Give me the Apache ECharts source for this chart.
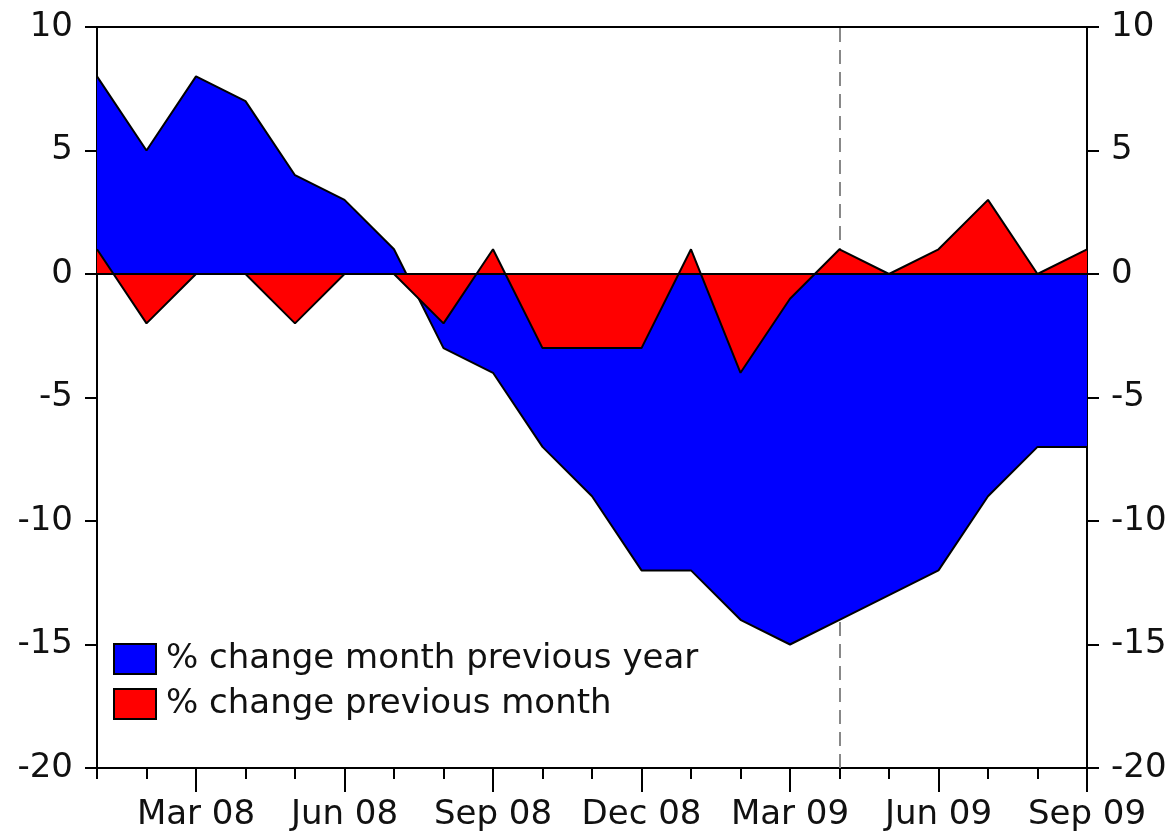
<!DOCTYPE html>
<html>
<head>
<meta charset="utf-8">
<script src="https://cdn.jsdelivr.net/npm/echarts@6/dist/echarts.min.js"></script>
<style>
  html, body { margin: 0; padding: 0; background: #fff; }
  #chart { width: 1171px; height: 833px; }
</style>
</head>
<body>
<div id="chart"></div>
<script>
// months, Jan 08 .. Sep 09
const months = [
  'Jan 08', 'Feb 08', 'Mar 08', 'Apr 08', 'May 08', 'Jun 08', 'Jul 08',
  'Aug 08', 'Sep 08', 'Oct 08', 'Nov 08', 'Dec 08', 'Jan 09', 'Feb 09',
  'Mar 09', 'Apr 09', 'May 09', 'Jun 09', 'Jul 09', 'Aug 09', 'Sep 09'
];
const changeYear = [8, 5, 8, 7, 4, 3, 1, -3, -4, -7, -9, -12, -12, -14, -15, -14, -13, -12, -9, -7, -7];
const changeMonth = [1, -2, 0, 0, -2, 0, 0, -2, 1, -3, -3, -3, 1, -4, -1, 1, 0, 1, 3, 0, 1];
const yTicks = [-20, -15, -10, -5, 0, 5, 10];
const markerMonth = 'Apr 09';

const font = 'DejaVu Sans';
const labelStyle = { fontFamily: font, fontSize: 34, color: '#111' };

const chart = echarts.init(document.getElementById('chart'));

const yAxisBase = {
  type: 'value',
  min: yTicks[0],
  max: yTicks[yTicks.length - 1],
  interval: 5,
  splitLine: { show: false },
  axisLine: { show: true, lineStyle: { color: '#000', width: 2 } },
  axisTick: { show: true, length: 12, lineStyle: { color: '#000', width: 2 } },
  axisLabel: Object.assign({ margin: 24 }, labelStyle)
};

const option = {
  animation: false,
  backgroundColor: '#fff',
  grid: {
    left: 97,
    right: 84,
    top: 27,
    bottom: 65,
    show: true,
    borderColor: '#000',
    borderWidth: 2
  },
  legend: {
    orient: 'vertical',
    left: 113,
    top: 642,
    padding: 0,
    icon: 'rect',
    itemWidth: 42,
    itemHeight: 30,
    itemGap: 11,
    itemStyle: { borderColor: '#000', borderWidth: 2 },
    textStyle: {
      fontFamily: font,
      fontSize: 34,
      color: '#111',
      lineHeight: 34,
      padding: [0, 0, 0, 5]
    },
    data: ['% change month previous year', '% change previous month']
  },
  xAxis: [
    {
      type: 'category',
      data: months,
      boundaryGap: false,
      axisLine: { show: true, onZero: false, lineStyle: { color: '#000', width: 2 } },
      axisTick: {
        show: true,
        length: 24,
        interval: (i) => i % 3 === 2,
        lineStyle: { color: '#000', width: 2 }
      },
      axisLabel: Object.assign({
        margin: 30,
        interval: (i) => i % 3 === 2
      }, labelStyle),
      splitLine: { show: false }
    },
    {
      type: 'category',
      data: months,
      position: 'bottom',
      boundaryGap: false,
      axisLine: { show: false, onZero: false },
      axisTick: {
        show: true,
        length: 11,
        interval: 0,
        lineStyle: { color: '#000', width: 2 }
      },
      axisLabel: { show: false },
      splitLine: { show: false }
    }
  ],
  yAxis: [
    Object.assign({ position: 'left' }, yAxisBase),
    Object.assign({ position: 'right' }, yAxisBase)
  ],
  series: [
    {
      name: 'marker',
      type: 'line',
      data: [],
      z: 1,
      silent: true,
      markLine: {
        z: 1,
        silent: true,
        symbol: 'none',
        label: { show: false },
        lineStyle: { color: '#888', type: [14, 8], width: 2 },
        data: [{ xAxis: markerMonth }]
      }
    },
    {
      name: '% change month previous year',
      type: 'line',
      data: changeYear,
      z: 2,
      showSymbol: false,
      itemStyle: { color: '#0000ff' },
      lineStyle: { color: '#000', width: 2 },
      areaStyle: { color: '#0000ff', opacity: 1 }
    },
    {
      name: '% change previous month',
      type: 'line',
      data: changeMonth,
      z: 3,
      showSymbol: false,
      itemStyle: { color: '#ff0000' },
      lineStyle: { color: '#000', width: 2 },
      areaStyle: { color: '#ff0000', opacity: 1 },
      markLine: {
        silent: true,
        symbol: 'none',
        label: { show: false },
        lineStyle: { color: '#000', type: 'solid', width: 2 },
        data: [{ yAxis: 0 }]
      }
    }
  ]
};

chart.setOption(option);
</script>
</body>
</html>
